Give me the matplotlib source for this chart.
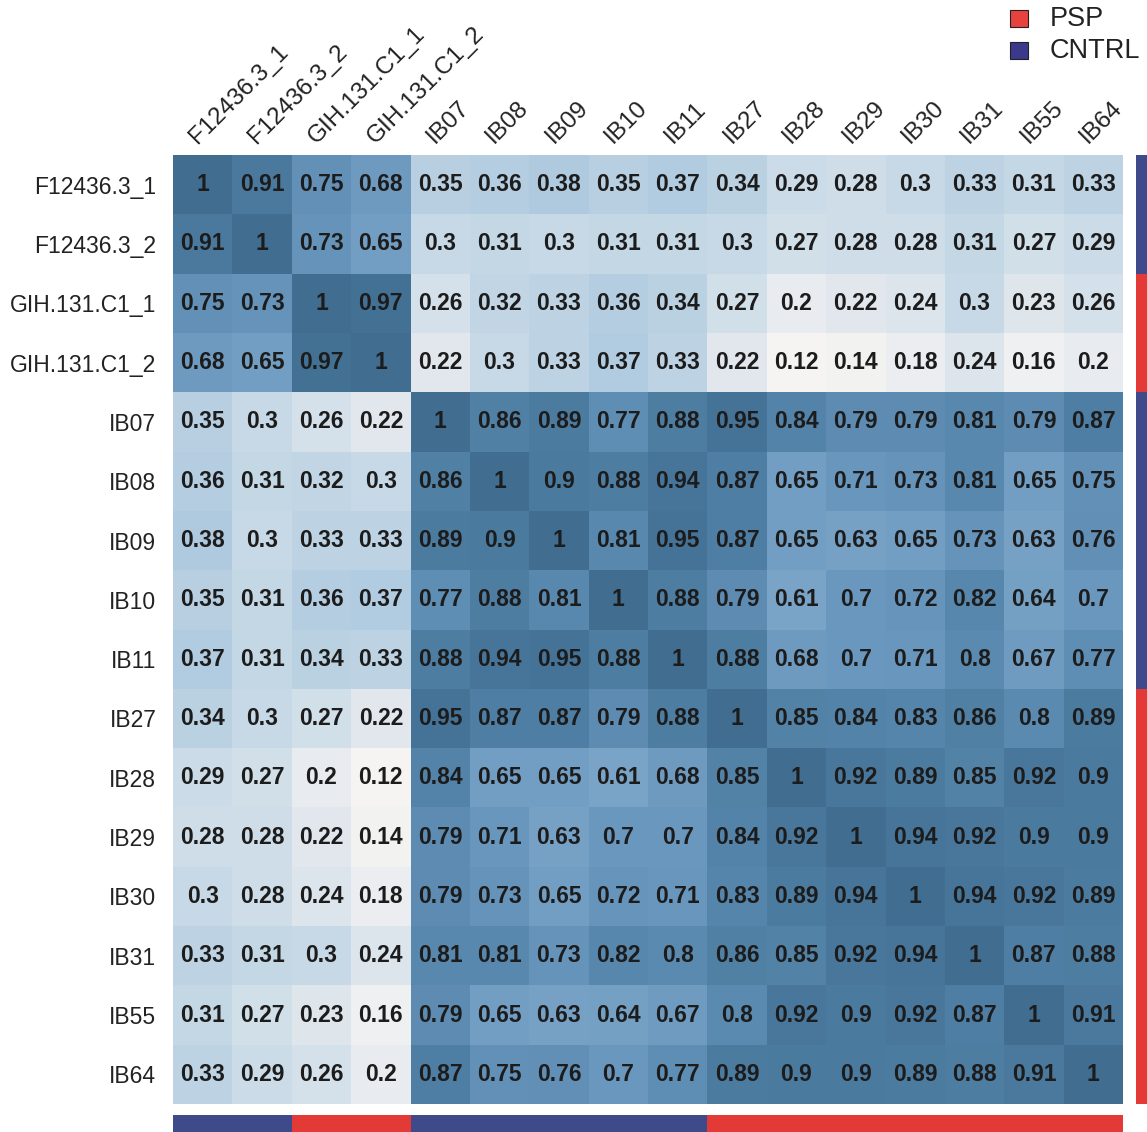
import numpy as np
import matplotlib
matplotlib.use("Agg")
import matplotlib.pyplot as plt
from matplotlib.colors import LinearSegmentedColormap, ListedColormap
from matplotlib.patches import Rectangle

samples = ["F12436.3_1", "F12436.3_2", "GIH.131.C1_1", "GIH.131.C1_2",
           "IB07", "IB08", "IB09", "IB10", "IB11", "IB27", "IB28", "IB29",
           "IB30", "IB31", "IB55", "IB64"]
groups = ["CNTRL", "CNTRL", "PSP", "PSP",
          "CNTRL", "CNTRL", "CNTRL", "CNTRL", "CNTRL",
          "PSP", "PSP", "PSP", "PSP", "PSP", "PSP", "PSP"]

corr = np.array([
    [1, 0.91, 0.75, 0.68, 0.35, 0.36, 0.38, 0.35, 0.37, 0.34, 0.29, 0.28, 0.3, 0.33, 0.31, 0.33],
    [0.91, 1, 0.73, 0.65, 0.3, 0.31, 0.3, 0.31, 0.31, 0.3, 0.27, 0.28, 0.28, 0.31, 0.27, 0.29],
    [0.75, 0.73, 1, 0.97, 0.26, 0.32, 0.33, 0.36, 0.34, 0.27, 0.2, 0.22, 0.24, 0.3, 0.23, 0.26],
    [0.68, 0.65, 0.97, 1, 0.22, 0.3, 0.33, 0.37, 0.33, 0.22, 0.12, 0.14, 0.18, 0.24, 0.16, 0.2],
    [0.35, 0.3, 0.26, 0.22, 1, 0.86, 0.89, 0.77, 0.88, 0.95, 0.84, 0.79, 0.79, 0.81, 0.79, 0.87],
    [0.36, 0.31, 0.32, 0.3, 0.86, 1, 0.9, 0.88, 0.94, 0.87, 0.65, 0.71, 0.73, 0.81, 0.65, 0.75],
    [0.38, 0.3, 0.33, 0.33, 0.89, 0.9, 1, 0.81, 0.95, 0.87, 0.65, 0.63, 0.65, 0.73, 0.63, 0.76],
    [0.35, 0.31, 0.36, 0.37, 0.77, 0.88, 0.81, 1, 0.88, 0.79, 0.61, 0.7, 0.72, 0.82, 0.64, 0.7],
    [0.37, 0.31, 0.34, 0.33, 0.88, 0.94, 0.95, 0.88, 1, 0.88, 0.68, 0.7, 0.71, 0.8, 0.67, 0.77],
    [0.34, 0.3, 0.27, 0.22, 0.95, 0.87, 0.87, 0.79, 0.88, 1, 0.85, 0.84, 0.83, 0.86, 0.8, 0.89],
    [0.29, 0.27, 0.2, 0.12, 0.84, 0.65, 0.65, 0.61, 0.68, 0.85, 1, 0.92, 0.89, 0.85, 0.92, 0.9],
    [0.28, 0.28, 0.22, 0.14, 0.79, 0.71, 0.63, 0.7, 0.7, 0.84, 0.92, 1, 0.94, 0.92, 0.9, 0.9],
    [0.3, 0.28, 0.24, 0.18, 0.79, 0.73, 0.65, 0.72, 0.71, 0.83, 0.89, 0.94, 1, 0.94, 0.92, 0.89],
    [0.33, 0.31, 0.3, 0.24, 0.81, 0.81, 0.73, 0.82, 0.8, 0.86, 0.85, 0.92, 0.94, 1, 0.87, 0.88],
    [0.31, 0.27, 0.23, 0.16, 0.79, 0.65, 0.63, 0.64, 0.67, 0.8, 0.92, 0.9, 0.92, 0.87, 1, 0.91],
    [0.33, 0.29, 0.26, 0.2, 0.87, 0.75, 0.76, 0.7, 0.77, 0.89, 0.9, 0.9, 0.89, 0.88, 0.91, 1],
])

group_colors = {"PSP": "#e33a37", "CNTRL": "#3e4a8a"}

plt.rcParams["font.family"] = ["Liberation Sans", "DejaVu Sans"]

vmin, vmax = 0.12, 1.0
stops = [(0.12, "#f5f4f2"), (0.20, "#e8ebef"), (0.30, "#c7d9e6"),
         (0.37, "#b1cbe0"), (0.61, "#7aa4c7"), (0.70, "#6a97be"),
         (0.80, "#5b8ab0"), (0.90, "#4b7a9f"), (1.00, "#406d90")]
cmap = LinearSegmentedColormap.from_list(
    "corr_blues", [((v - vmin) / (vmax - vmin), c) for v, c in stops])

W, H = 1147, 1132
fig = plt.figure(figsize=(W / 100, H / 100), dpi=100)

hm_l, hm_r, hm_t, hm_b = 173, 1123, 155, 1104
ax = fig.add_axes([hm_l / W, 1 - hm_b / H, (hm_r - hm_l) / W, (hm_b - hm_t) / H])
n = len(samples)
ax.pcolormesh(np.arange(n + 1), np.arange(n + 1), corr, cmap=cmap,
              vmin=vmin, vmax=vmax, shading="flat")
ax.set_xlim(0, n)
ax.set_ylim(n, 0)
for i in range(n):
    for j in range(n):
        v = corr[i, j]
        txt = "1" if v == 1 else f"{v:g}"
        ax.text(j + 0.5, i + 0.5, txt, ha="center", va="center",
                fontsize=16.5, fontweight="bold", color="#1c1c1c")
for s in ax.spines.values():
    s.set_visible(False)
ax.set_xticks([])
ax.set_yticks(np.arange(n) + 0.5)
ax.set_yticklabels(samples, fontsize=16.5, color="#222222")
ax.tick_params(axis="y", length=0, pad=12)
for j, name in enumerate(samples):
    ax.text(j + 0.47, -0.12, name, rotation=45, rotation_mode="anchor",
            ha="left", va="bottom", fontsize=17.5, color="#222222")

# group annotation bars
axb = fig.add_axes([hm_l / W, 0, (hm_r - hm_l) / W, 17 / H])
axb.pcolormesh(np.arange(n + 1), [0, 1], np.arange(n)[None, :],
               cmap=ListedColormap([group_colors[g] for g in groups]),
               vmin=-0.5, vmax=n - 0.5)
axb.set_xlim(0, n)
axb.axis("off")

axr = fig.add_axes([1136 / W, 1 - hm_b / H, 12 / W, (hm_b - hm_t) / H])
axr.pcolormesh([0, 1], np.arange(n + 1), np.arange(n)[:, None],
               cmap=ListedColormap([group_colors[g] for g in groups]),
               vmin=-0.5, vmax=n - 0.5)
axr.set_ylim(n, 0)
axr.axis("off")

# legend
for k, (label, col) in enumerate([("PSP", "#e8423f"), ("CNTRL", "#3b398c")]):
    y0 = 10 + k * 32
    fig.patches.append(Rectangle((1010 / W, 1 - (y0 + 17) / H), 18 / W, 17 / H,
                                 transform=fig.transFigure, facecolor=col,
                                 edgecolor="#222222", linewidth=0.8))
    fig.text(1050 / W, 1 - (y0 + 9) / H, label, ha="left", va="center",
             fontsize=19.5, color="#222222")

fig.savefig("out.png", dpi=100)
